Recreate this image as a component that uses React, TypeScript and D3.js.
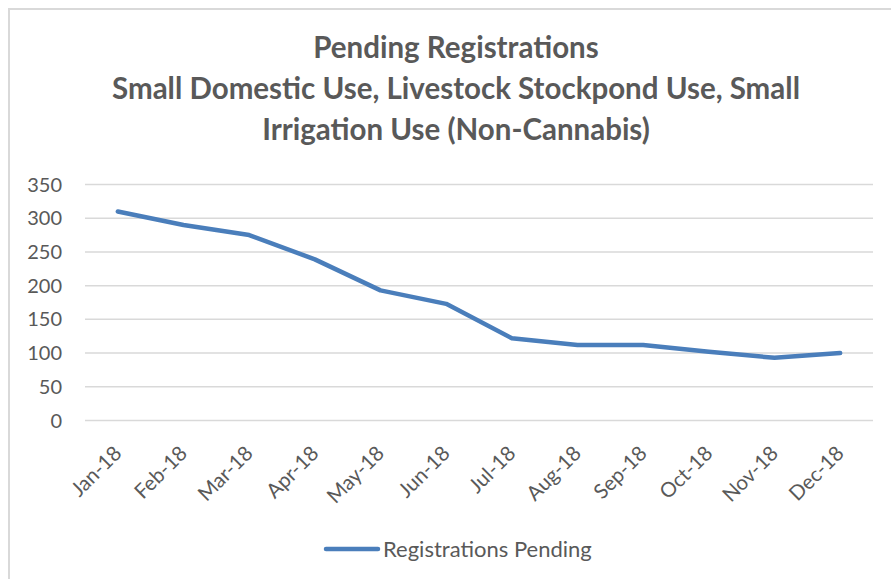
import React, { useRef, useEffect } from 'react'
import * as d3 from 'd3'

const months = ['Jan-18', 'Feb-18', 'Mar-18', 'Apr-18', 'May-18', 'Jun-18', 'Jul-18', 'Aug-18', 'Sep-18', 'Oct-18', 'Nov-18', 'Dec-18']
const pending = [310, 290, 275, 239, 193, 173, 122, 112, 112, 102, 93, 100]
const yTicks = [0, 50, 100, 150, 200, 250, 300, 350]
const titleLines = [
  'Pending Registrations',
  'Small Domestic Use, Livestock Stockpond Use, Small',
  'Irrigation Use (Non-Cannabis)',
]
const seriesName = 'Registrations Pending'

const W = 891
const H = 579
const font = 'Lato, Carlito, Calibri, sans-serif'
const grey = '#595959'
const blue = '#4a7ebb'

function App() {
  const svgRef = useRef<SVGSVGElement>(null)

  useEffect(() => {
    const svg = d3.select(svgRef.current)
    svg.selectAll('*').remove()

    const plot = { left: 85, right: 873, top: 184.5, bottom: 420.5 }

    const x = d3.scaleBand().domain(months).range([plot.left, plot.right])
    const y = d3.scaleLinear().domain([0, 350]).range([plot.bottom, plot.top])

    // outer frame (right and bottom edges fall outside the picture)
    svg.append('rect')
      .attr('x', 9).attr('y', 9)
      .attr('width', W + 20).attr('height', H + 20)
      .attr('fill', 'white')
      .attr('stroke', '#d9d9d9')
      .attr('stroke-width', 2)

    // title
    const title = svg.append('text')
      .attr('text-anchor', 'middle')
      .attr('font-family', font)
      .attr('font-weight', 'bold')
      .attr('font-size', 29.5)
      .attr('fill', grey)
    titleLines.forEach((t, i) => {
      title.append('tspan').attr('x', 456).attr('y', 58 + i * 41).text(t)
    })

    // gridlines
    svg.append('g')
      .selectAll('line')
      .data(yTicks)
      .join('line')
      .attr('x1', plot.left).attr('x2', plot.right)
      .attr('y1', d => y(d)).attr('y2', d => y(d))
      .attr('stroke', '#d9d9d9')
      .attr('stroke-width', 1.5)

    // y labels
    svg.append('g')
      .selectAll('text')
      .data(yTicks)
      .join('text')
      .attr('x', 62)
      .attr('y', d => y(d))
      .attr('dy', '0.35em')
      .attr('text-anchor', 'end')
      .attr('font-family', font)
      .attr('font-size', 20)
      .attr('fill', grey)
      .text(d => d)

    // x labels, rotated
    svg.append('g')
      .selectAll('text')
      .data(months)
      .join('text')
      .attr('transform', d => `translate(${x(d)! + x.bandwidth() / 2 + 5},${plot.bottom + 34}) rotate(-45)`)
      .attr('text-anchor', 'end')
      .attr('font-family', font)
      .attr('font-size', 20.5)
      .attr('fill', grey)
      .text(d => d)

    // series line
    const myLine = d3.line<number>()
      .x((v, i) => x(months[i])! + x.bandwidth() / 2)
      .y(v => y(v))

    svg.append('path')
      .datum(pending)
      .attr('d', myLine)
      .attr('fill', 'none')
      .attr('stroke', blue)
      .attr('stroke-width', 4.5)
      .attr('stroke-linecap', 'round')
      .attr('stroke-linejoin', 'round')

    // legend
    svg.append('line')
      .attr('x1', 326).attr('x2', 378)
      .attr('y1', 549).attr('y2', 549)
      .attr('stroke', blue)
      .attr('stroke-width', 4.5)
      .attr('stroke-linecap', 'round')
    svg.append('text')
      .attr('x', 383).attr('y', 549)
      .attr('dy', '0.35em')
      .attr('font-family', font)
      .attr('font-size', 22)
      .attr('fill', grey)
      .text(seriesName)
  }, [])

  return (
    <svg
      ref={svgRef}
      width={W}
      height={H}
      style={{ position: 'absolute', left: 0, top: 0, display: 'block', background: 'white' }}
    />
  )
}

export default App
